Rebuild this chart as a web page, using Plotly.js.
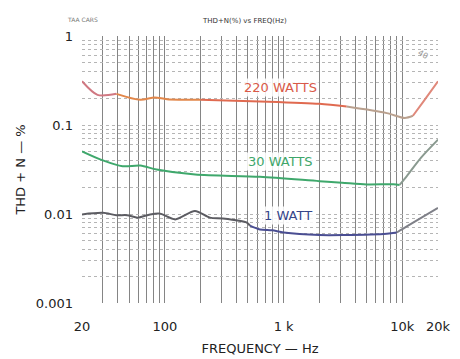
<!DOCTYPE html>
<html>
<head>
<meta charset="utf-8">
<script src="https://cdn.plot.ly/plotly-3.0.1.min.js"></script>
<style>html,body{margin:0;padding:0;background:#fff;}#chart{width:460px;height:359px;}</style>
</head>
<body>
<div id="chart"></div>
<script>
// ---- data ----
const freq220 = [20, 27, 39, 62, 82, 104, 200, 632, 2000, 3400, 7400, 10500, 12300, 15000, 20000];
const thd220  = [0.31, 0.218, 0.224, 0.192, 0.204, 0.195, 0.192, 0.184, 0.173, 0.161, 0.136, 0.120, 0.127, 0.182, 0.31];

const freq30 = [20, 30, 44, 62, 85, 180, 632, 2000, 3100, 5000, 8400, 9500, 11000, 14400, 20000];
const thd30  = [0.0506, 0.040, 0.0344, 0.035, 0.0316, 0.0277, 0.0262, 0.0234, 0.0225, 0.0215, 0.0216, 0.0212, 0.027, 0.043, 0.0685];

const freq1 = [20, 30, 39, 48, 59, 75, 91, 122, 179, 239, 308, 490, 520, 632, 800, 1000, 2000, 3200, 7400, 9000, 11000, 20000];
const thd1  = [0.0099, 0.0103, 0.0097, 0.0097, 0.0091, 0.0099, 0.0101, 0.0087, 0.0108, 0.0091, 0.0089, 0.0080, 0.0074, 0.0067, 0.00655, 0.0062, 0.0058, 0.0058, 0.0060, 0.0062, 0.0073, 0.0117];

const xTickVals = [20,30,40,50,60,70,80,90,100,200,300,400,500,600,700,800,900,1000,2000,3000,4000,5000,6000,7000,8000,9000,10000,20000];
const xTickText = ["20","","","","","","","","100","","","","","","","","","1 k","","","","","","","","","10k","20k"];
const yTickVals = [0.001,0.002,0.003,0.004,0.005,0.006,0.007,0.008,0.009,0.01,0.02,0.03,0.04,0.05,0.06,0.07,0.08,0.09,0.1,0.2,0.3,0.4,0.5,0.6,0.7,0.8,0.9,1];
const yTickText = ["0.001","","","","","","","","","0.01","","","","","","","","","0.1","","","","","","","","","1"];

const seriesLabels = ["220 WATTS", "30 WATTS", "1 WATT"];

// ---- traces (segments of the same series, coloured as on the scan) ----
function seg(xs, ys, a, b, color) {
  return {
    x: xs.slice(a, b + 1), y: ys.slice(a, b + 1),
    type: 'scatter', mode: 'lines',
    line: {color: color, width: 2, shape: 'spline', smoothing: 0.8},
    hoverinfo: 'skip', showlegend: false
  };
}
const traces = [
  seg(freq220, thd220, 0, 2, '#d07882'),
  seg(freq220, thd220, 2, 6, '#e2874a'),
  seg(freq220, thd220, 6, 9, '#e06a50'),
  seg(freq220, thd220, 9, 12, '#b9a08e'),
  seg(freq220, thd220, 12, 14, '#e0887a'),
  seg(freq30, thd30, 0, 11, '#3fa86c'),
  seg(freq30, thd30, 11, 14, '#8a9a90'),
  seg(freq1, thd1, 0, 12, '#5c5c62'),
  seg(freq1, thd1, 12, 19, '#4a4e92'),
  seg(freq1, thd1, 19, 21, '#7f8088')
];

const F = 'DejaVu Sans, sans-serif';
const layout = {
  width: 460, height: 359,
  margin: {l: 82, r: 22, t: 36, b: 56},
  paper_bgcolor: '#ffffff', plot_bgcolor: '#ffffff',
  showlegend: false,
  font: {family: F, color: '#222', size: 13},
  xaxis: {
    type: 'log', range: [Math.log10(20), Math.log10(20000)],
    tickmode: 'array', tickvals: xTickVals, ticktext: xTickText,
    showgrid: true, gridcolor: '#858585', gridwidth: 1,
    zeroline: false, showline: false, ticks: '',
    ticklabelstandoff: 14,
    tickfont: {family: F, size: 13, color: '#222'},
    title: {text: 'FREQUENCY — Hz', font: {family: F, size: 13, color: '#222'}, standoff: 10}
  },
  yaxis: {
    type: 'log', range: [-3, 0],
    tickmode: 'array', tickvals: yTickVals, ticktext: yTickText,
    showgrid: true, gridcolor: '#b5b5b5', gridwidth: 1, griddash: 'dot',
    zeroline: false, showline: false, ticks: '',
    ticklabelstandoff: 8,
    tickfont: {family: F, size: 13, color: '#222'},
    title: {text: 'THD + N — %', font: {family: F, size: 13, color: '#222'}, standoff: 7}
  },
  annotations: [
    {xref: 'x', yref: 'y', x: Math.log10(950), y: -0.582, text: seriesLabels[0], showarrow: false,
     font: {family: F, size: 13, color: '#d95a48'}, bgcolor: 'rgba(255,255,255,0.85)'},
    {xref: 'x', yref: 'y', x: Math.log10(950), y: -1.411, text: seriesLabels[1], showarrow: false,
     font: {family: F, size: 13, color: '#3ea66a'}, bgcolor: 'rgba(255,255,255,0.85)'},
    {xref: 'x', yref: 'y', x: Math.log10(1090), y: -2.016, text: seriesLabels[2], showarrow: false,
     font: {family: F, size: 13, color: '#35458a'}, bgcolor: 'rgba(255,255,255,0.85)'},
    {xref: 'paper', yref: 'paper', x: -0.048, y: 1.082, text: 'TAA CARS', showarrow: false,
     font: {family: F, size: 6, color: '#777'}},
    {xref: 'paper', yref: 'paper', x: 0.331, y: 1.08, text: 'THD+N(%) vs FREQ(Hz)', showarrow: false,
     font: {family: F, size: 7, color: '#333'}},
    {xref: 'paper', yref: 'paper', x: 0.983, y: 0.966, text: '40', showarrow: false, textangle: 30,
     font: {family: F, size: 8, color: '#999'}}
  ]
};

Plotly.newPlot('chart', traces, layout, {staticPlot: true, displayModeBar: false});
</script>
</body>
</html>
